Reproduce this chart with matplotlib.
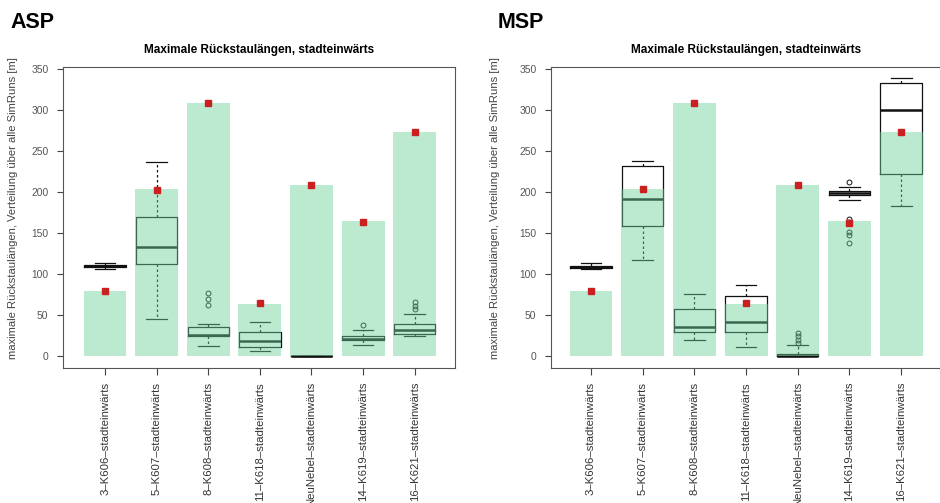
import numpy as np
import matplotlib
matplotlib.use("Agg")
import matplotlib.pyplot as plt

plt.rcParams['font.family'] = ['Liberation Sans', 'DejaVu Sans']

categories = ["3–K606–stadteinwärts", "5–K607–stadteinwärts", "8–K608–stadteinwärts",
              "11–K618–stadteinwärts", "NeuNebel–stadteinwärts", "14–K619–stadteinwärts",
              "16–K621–stadteinwärts"]

# bars (reference max queue length) and red points
bar_values = [80, 204, 309, 64, 209, 165, 274]
asp_points = [80, 203, 309, 65, 209, 164, 274]
msp_points = [80, 204, 309, 65, 209, 163, 274]

# boxplot stats per category: lower whisker, q1, median, q3, upper whisker
asp_whislo = [106.5, 45.5, 12, 6, 0, 13.5, 24.5]
asp_q1 = [108.5, 112, 24.5, 11.5, 0, 19.5, 27.5]
asp_med = [110, 133, 25.5, 18.5, 0, 21.5, 32.5]
asp_q3 = [111, 170, 35.5, 29.5, 0, 25, 39.5]
asp_whishi = [113.5, 237.5, 39, 42, 0, 32.5, 52]
asp_fliers = [[], [], [63, 70, 77], [], [], [37.5], [57, 61, 66]]

msp_whislo = [106, 117.5, 20, 11.5, 0, 190.5, 183.5]
msp_q1 = [107.5, 158.5, 30, 30, 0, 197, 222]
msp_med = [108.5, 192, 35.5, 42, 0, 199.5, 300.5]
msp_q3 = [110, 232, 57, 74, 3, 202, 334]
msp_whishi = [113.5, 238.5, 75.5, 86.5, 13.5, 206.5, 340]
msp_fliers = [[], [], [], [], [16, 20, 24, 28], [138, 148, 152, 164, 168, 213], []]

yticks = [0, 50, 100, 150, 200, 250, 300, 350]


def panel(ax, whislo, q1, med, q3, whishi, fliers, points, xlim):
    pos = np.arange(1, len(categories) + 1)
    stats = []
    for i in range(len(categories)):
        stats.append(dict(whislo=whislo[i], q1=q1[i], med=med[i], q3=q3[i],
                          whishi=whishi[i], fliers=fliers[i]))
    ax.bxp(stats, positions=pos, widths=0.8, capwidths=0.4, showfliers=True,
           boxprops=dict(color='#111111', lw=0.9),
           medianprops=dict(color='#111111', lw=1.8),
           whiskerprops=dict(color='#111111', lw=0.9, linestyle=(0, (2, 2))),
           capprops=dict(color='#111111', lw=0.9),
           flierprops=dict(marker='o', ms=3.5, mfc='none', mec='#111111', mew=0.7),
           zorder=1)
    ax.bar(pos, bar_values, width=0.83, color='#6cd29b', alpha=0.45, zorder=2, lw=0)
    ax.plot(pos, points, 's', color='#cc2020', ms=4.2, zorder=3)

    ax.set_xlim(*xlim)
    ax.set_ylim(-14.5, 353)
    ax.set_yticks(yticks)
    ax.set_xticks(pos)
    ax.set_xticklabels(categories, rotation=90, fontsize=8.2, color='#333333')
    ax.tick_params(axis='y', labelsize=7.4, labelcolor='#555555', length=4.5, pad=6,
                   color='#444444')
    ax.tick_params(axis='x', length=5, pad=5, color='#444444')
    for s in ax.spines.values():
        s.set_color('#555555')
        s.set_linewidth(0.8)
    ax.set_title("Maximale Rückstaulängen, stadteinwärts", fontsize=8.5,
                 fontweight='bold', pad=10)
    ax.set_ylabel("maximale Rückstaulängen, Verteilung über alle SimRuns [m]",
                  fontsize=8.1, color='#444444')


fig = plt.figure(figsize=(9.4, 5.03), dpi=100)
ax1 = fig.add_axes([63 / 940, 1 - 368 / 503, 392 / 940, 301 / 503])
ax2 = fig.add_axes([551 / 940, 1 - 368 / 503, 391 / 940, 301 / 503])

panel(ax1, asp_whislo, asp_q1, asp_med, asp_q3, asp_whishi, asp_fliers, asp_points,
      (0.186, 7.78))
panel(ax2, msp_whislo, msp_q1, msp_med, msp_q3, msp_whishi, msp_fliers, msp_points,
      (0.226, 7.79))
ax1.yaxis.set_label_coords(-0.115, 0.53)
ax2.yaxis.set_label_coords(-0.13, 0.53)

fig.text(10 / 940, 1 - 28 / 503, "ASP", fontsize=15.5, fontweight='bold')
fig.text(498 / 940, 1 - 28 / 503, "MSP", fontsize=15.5, fontweight='bold')

fig.savefig("out.png", dpi=100)
